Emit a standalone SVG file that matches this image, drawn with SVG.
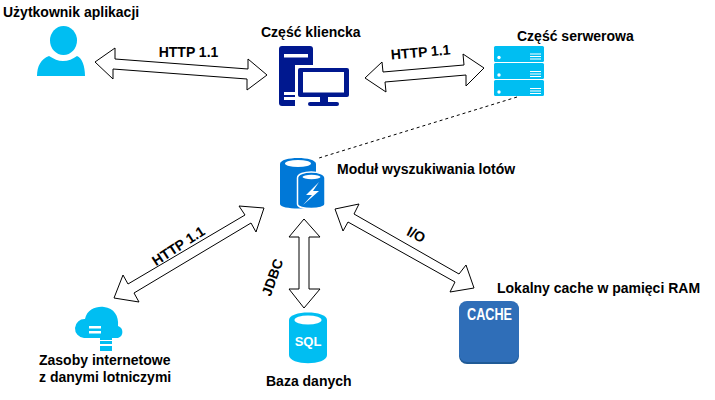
<svg xmlns="http://www.w3.org/2000/svg" width="715" height="400" viewBox="0 0 715 400">
<style>
text{font-family:"Liberation Sans",Arial,sans-serif;font-size:14px;font-weight:700;fill:#000}
.a{fill:#fff;stroke:#000;stroke-width:1;stroke-linejoin:miter}
.b{fill:#00bef2}
.w{fill:#fff}
.n{fill:#00188f}
.m{fill:#0078d7}
</style>
<rect width="715" height="400" fill="#fff"/>
<g id="connectors">
<polygon class="a" points="95,62 115,48 115,59 248,69 248,59 267,75 247,90 247,79 113,69 113,79"/>
<polygon class="a" points="365,78 382,62 383,72 464,65 463,54 484,68 466,86 466,75 385,82 386,92"/>
<line x1="517" y1="97" x2="319" y2="158" stroke="#000" stroke-width="1" stroke-dasharray="3 3"/>
<polygon class="a" points="264,208 239,206 245,215 128,284 123,275 114,298 139,302 134,293 251,223 256,232"/>
<polygon class="a" points="304,219 320,237 309,237 309,289 320,289 304,308 289,289 299,289 299,237 289,237"/>
<polygon class="a" points="335,209 359,204 354,214 459,274 466,265 474,288 450,292 455,282 348,222 343,231"/>
<text x="188.500" y="57" text-anchor="middle">HTTP 1.1</text>
<text transform="translate(421 57) rotate(-5)" text-anchor="middle">HTTP 1.1</text>
<text transform="translate(181 250) rotate(-33)" text-anchor="middle">HTTP 1.1</text>
<text transform="translate(277 279) rotate(-70)" text-anchor="middle">JDBC</text>
<text transform="translate(414 239) rotate(27)" text-anchor="middle">I/O</text>
</g>
<g id="user">
<ellipse class="b" cx="63.500" cy="40.500" rx="13.500" ry="14.500"/>
<path class="b" d="M37,76 C37,66 41,59 49,56 C54,59 58,61 63,61 C68,61 73,59 77,56 C82,58 85,66 85,76 Z"/>
<text x="3" y="17">Użytkownik aplikacji</text>
</g>
<g id="client">
<rect class="n" x="279" y="46" width="34" height="60" rx="3"/>
<rect class="w" x="284" y="54" width="24" height="3.500"/>
<rect class="w" x="284" y="92" width="11" height="3"/>
<rect class="w" x="284" y="97" width="11" height="3"/>
<rect class="w" x="295" y="65" width="58" height="42"/>
<rect class="w" x="305" y="100" width="36" height="8"/>
<rect class="n" x="298" y="68" width="51" height="29" rx="2"/>
<rect class="w" x="303" y="72" width="41" height="20.500"/>
<rect class="n" x="320" y="96" width="8" height="7"/>
<rect class="n" x="308" y="102" width="31" height="4" rx="2"/>
<text x="261" y="37">Część kliencka</text>
</g>
<g id="server">
<rect class="b" x="494" y="46" width="50" height="16" rx="1.500"/>
<rect class="b" x="494" y="63" width="50" height="16" rx="1.500"/>
<rect class="b" x="494" y="80" width="50" height="16" rx="1.500"/>
<g class="w">
<circle cx="499" cy="57.500" r="1.700"/>
<circle cx="499" cy="75" r="1.700"/>
<circle cx="499" cy="92" r="1.700"/>
<rect x="530" y="53.500" width="11" height="1"/>
<rect x="530" y="56" width="11" height="1"/>
<rect x="530" y="58.500" width="11" height="1"/>
<rect x="530" y="71" width="11" height="1"/>
<rect x="530" y="73.500" width="11" height="1"/>
<rect x="530" y="76" width="11" height="1"/>
<rect x="530" y="88" width="11" height="1"/>
<rect x="530" y="90.500" width="11" height="1"/>
<rect x="530" y="93" width="11" height="1"/>
</g>
<text x="517" y="41">Część serwerowa</text>
</g>
<g id="module">
<path class="m" d="M280,164 C280,156 316,156 316,164 V204 C316,210 280,210 280,204 Z"/>
<ellipse class="w" cx="298" cy="163.500" rx="13" ry="3.500"/>
<path class="m" stroke="#fff" stroke-width="1.500" d="M297.500,178 C297.500,170 325,170 325,178 V204 C325,210 297.500,210 297.500,204 Z"/>
<ellipse class="w" cx="311.500" cy="177" rx="9" ry="2.200"/>
<polygon class="w" points="319,182 306,195 312,195 303,205 319,191 313,191"/>
<text x="337" y="174">Moduł wyszukiwania lotów</text>
</g>
<g id="cloud">
<path class="b" d="M84,338 A9.500,9.500 0 1 1 85,319 C87,309 97,306 104,307 C114,308 119,316 118,326 A6.300,6.300 0 0 1 118,338 H112 V340 H100 V338 Z"/>
<rect class="b" x="100" y="341" width="12" height="3"/>
<rect class="b" x="100" y="346" width="12" height="5"/>
<rect class="w" x="89" y="326" width="12" height="2.500"/>
<rect class="w" x="89" y="331" width="12" height="2.500"/>
<text x="39" y="365">Zasoby internetowe</text>
<text x="39" y="382">z danymi lotniczymi</text>
</g>
<g id="db">
<path class="b" d="M289,320 C289,310 327,310 327,320 V355 C327,366 289,366 289,355 Z"/>
<ellipse class="w" cx="308" cy="320" rx="13.500" ry="4.500"/>
<text x="308" y="346" text-anchor="middle" style="font-size:13px;fill:#fff">SQL</text>
<text x="266" y="386">Baza danych</text>
</g>
<g id="cache">
<rect x="459" y="302" width="60" height="62" rx="8" fill="#1f5a96"/>
<rect x="459" y="301" width="60" height="61" rx="8" fill="#2f6eb8"/>
<text x="467" y="320" textLength="45" lengthAdjust="spacingAndGlyphs" style="font-size:17px;font-weight:700;fill:#fff">CACHE</text>
<text x="497" y="293">Lokalny cache w pamięci RAM</text>
</g>
</svg>
